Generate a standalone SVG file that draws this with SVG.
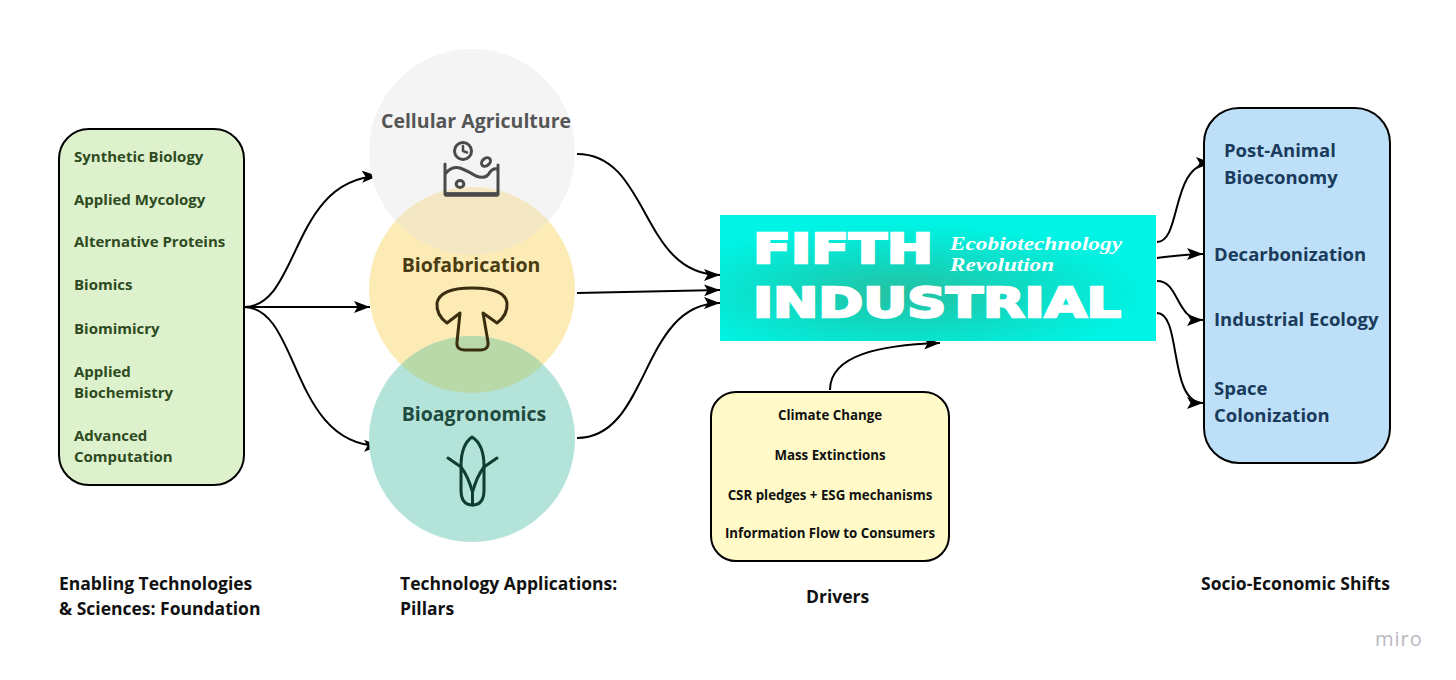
<svg xmlns="http://www.w3.org/2000/svg" width="1456" height="680" viewBox="0 0 1456 680">
<defs>
<style>
.lbl{font-family:"Open Sans","DejaVu Sans",sans-serif;font-weight:700}
.left{font-size:15px;fill:#2e4a1f}
.right{font-size:18.5px;fill:#1a3b5c}
.drv{font-size:13.3px;fill:#111;text-anchor:middle}
.cap{font-size:17.5px;fill:#111}
.conn{fill:none;stroke:#000;stroke-width:2}
.icon{fill:none;stroke-width:3;stroke-linecap:round;stroke-linejoin:round}
.big{font-family:"DejaVu Sans",sans-serif;font-weight:bold;font-size:41px;fill:#fff;stroke:#fff;stroke-width:2.4;stroke-linejoin:miter}
.sub{font-family:"Liberation Serif",serif;font-weight:bold;font-style:italic;font-size:18px;fill:#fff}
</style>
<marker id="arr" markerUnits="userSpaceOnUse" markerWidth="17" markerHeight="12" refX="16" refY="6" orient="auto">
<path d="M0,0 L16,6 L0,12 L3.5,6 Z" fill="#000"/>
</marker>
<radialGradient id="bg" cx="0.42" cy="0.62" r="0.55">
<stop offset="0" stop-color="#25c0a0"/>
<stop offset="0.45" stop-color="#10d8c0"/>
<stop offset="1" stop-color="#00f3e4"/>
</radialGradient>
<clipPath id="clipGray"><circle cx="472" cy="152" r="103"/></clipPath>
<clipPath id="clipYellow"><circle cx="472" cy="290" r="103"/></clipPath>
</defs>
<rect width="1456" height="680" fill="#fff"/>

<g id="connectors">
<path class="conn" d="M244 307 C300 307 290 180 378 176" marker-end="url(#arr)"/>
<path class="conn" d="M244 307 L370 307" marker-end="url(#arr)"/>
<path class="conn" d="M244 307 C300 307 290 445 380 446" marker-end="url(#arr)"/>
<path class="conn" d="M577 154 C650 154 640 275 720 275" marker-end="url(#arr)"/>
<path class="conn" d="M577 293 L720 290" marker-end="url(#arr)"/>
<path class="conn" d="M577 438 C650 438 640 303 720 303" marker-end="url(#arr)"/>
<path class="conn" d="M830 390 C830 355 880 345 940 343" marker-end="url(#arr)"/>
<path class="conn" d="M1157 242 C1182 242 1170 163 1212 163" marker-end="url(#arr)"/>
<path class="conn" d="M1157 258 C1175 256 1185 254 1203 254" marker-end="url(#arr)"/>
<path class="conn" d="M1157 281 C1180 281 1175 320 1203 320" marker-end="url(#arr)"/>
<path class="conn" d="M1157 313 C1182 313 1168 403 1203 403" marker-end="url(#arr)"/>
</g>

<g id="foundation">
<rect x="59" y="129" width="185" height="356" rx="30" fill="#ddf2cc" stroke="#000" stroke-width="2"/>
<text class="lbl left" x="74" y="162">Synthetic Biology</text>
<text class="lbl left" x="74" y="205">Applied Mycology</text>
<text class="lbl left" x="74" y="247">Alternative Proteins</text>
<text class="lbl left" x="74" y="290">Biomics</text>
<text class="lbl left" x="74" y="334">Biomimicry</text>
<text class="lbl left" x="74" y="377">Applied</text>
<text class="lbl left" x="74" y="398">Biochemistry</text>
<text class="lbl left" x="74" y="441">Advanced</text>
<text class="lbl left" x="74" y="462">Computation</text>
</g>

<g id="pillars-bg">
<circle cx="472" cy="152" r="103" fill="#f4f4f5"/>
<circle cx="472" cy="290" r="103" fill="#fcebb5"/>
<circle cx="472" cy="290" r="103" fill="#f4e8c4" clip-path="url(#clipGray)"/>
<circle cx="472" cy="439" r="103" fill="#b4e3da"/>
<circle cx="472" cy="439" r="103" fill="#b9d9a8" clip-path="url(#clipYellow)"/>
</g>

<g id="cellular-agriculture">
<text class="lbl" x="476" y="128" font-size="19.5" fill="#555" text-anchor="middle">Cellular Agriculture</text>
<g class="icon" stroke="#4a4a4a">
<circle cx="463" cy="151" r="8.5"/>
<path d="M463 146 L463 151 L467 152.5" stroke-width="2.5"/>
<ellipse cx="486" cy="162" rx="5" ry="3.6" transform="rotate(-40 486 162)"/>
<path d="M445 164 L445 194 L498 194 L498 165"/>
<path d="M446 194.5 L497 194.5" stroke-width="4.5"/>
<path d="M446 173 Q452 166 460 168 Q468 171 476 176 Q486 180 490 172 Q493 168 497 169"/>
<ellipse cx="460" cy="184" rx="3.8" ry="3.4"/>
</g>
</g>

<g id="biofabrication">
<text class="lbl" x="471" y="272" font-size="19.5" fill="#4a3c12" text-anchor="middle">Biofabrication</text>
<path class="icon" stroke="#3a2e10" d="M460 313 L447 323 Q436 315 437 303 Q440 288 472 288 Q505 288 507 303 Q508 315 497 323 L483 313 L488 342 Q489 350 480 350 L465 350 Q456 350 457 342 Z"/>
</g>

<g id="bioagronomics">
<text class="lbl" x="474" y="421" font-size="19.5" fill="#1f4a3e" text-anchor="middle">Bioagronomics</text>
<g class="icon" stroke="#0e3d31" stroke-width="3.5">
<path d="M472 437 C465 442 461 452 461 466 L461 490 Q461 505 472.5 505 Q484 505 484 490 L484 466 C484 452 480 442 472 437 Z"/>
<path d="M448 458 L461 467 Q468 476 472.5 492 L472.5 505"/>
<path d="M497 458 L484 467 Q477 476 472.5 492"/>
</g>
</g>

<g id="revolution">
<rect x="720" y="215" width="436" height="126" fill="url(#bg)"/>
<text class="big" x="753" y="263" textLength="180" lengthAdjust="spacingAndGlyphs">FIFTH</text>
<text class="big" x="753" y="317" textLength="368" lengthAdjust="spacingAndGlyphs">INDUSTRIAL</text>
<text class="sub" x="950" y="250" textLength="172" lengthAdjust="spacingAndGlyphs">Ecobiotechnology</text>
<text class="sub" x="950" y="271" textLength="104" lengthAdjust="spacingAndGlyphs">Revolution</text>
</g>

<g id="drivers">
<rect x="711" y="392" width="238" height="169" rx="25" fill="#fffac8" stroke="#000" stroke-width="2"/>
<text class="lbl drv" x="830" y="420">Climate Change</text>
<text class="lbl drv" x="830" y="460">Mass Extinctions</text>
<text class="lbl drv" x="830" y="500">CSR pledges + ESG mechanisms</text>
<text class="lbl drv" x="830" y="538">Information Flow to Consumers</text>
</g>

<g id="shifts">
<rect x="1204" y="108" width="186" height="355" rx="35" fill="#bde0f8" stroke="#000" stroke-width="2"/>
<text class="lbl right" x="1224" y="157">Post-Animal</text>
<text class="lbl right" x="1224" y="184">Bioeconomy</text>
<text class="lbl right" x="1214" y="261" fill="#111">Decarbonization</text>
<text class="lbl right" x="1214" y="326">Industrial Ecology</text>
<text class="lbl right" x="1214" y="395">Space</text>
<text class="lbl right" x="1214" y="422">Colonization</text>
</g>

<g id="captions">
<text class="lbl cap" x="59" y="590">Enabling Technologies</text>
<text class="lbl cap" x="59" y="615">&amp; Sciences: Foundation</text>
<text class="lbl cap" x="400" y="590">Technology Applications:</text>
<text class="lbl cap" x="400" y="615">Pillars</text>
<text class="lbl cap" x="806" y="603">Drivers</text>
<text class="lbl cap" x="1201" y="590">Socio-Economic Shifts</text>
<text x="1375" y="646" font-family="'Open Sans',sans-serif" font-size="20" fill="#b8b8c0" letter-spacing="1">miro</text>
</g>
</svg>
